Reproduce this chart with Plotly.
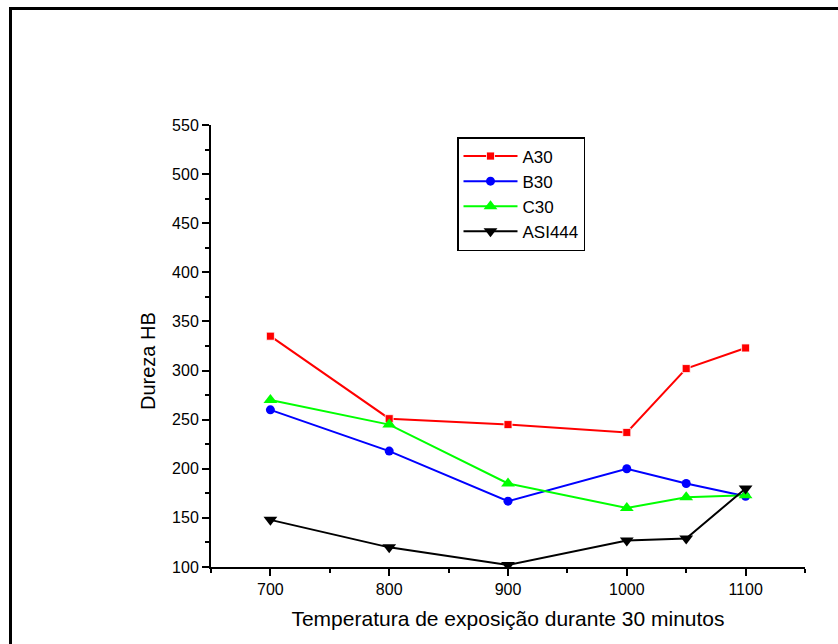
import plotly.graph_objects as go

temps = [700, 800, 900, 1000, 1050, 1100]
a30 = [335, 251, 245, 237, 302, 323]
b30 = [260, 218, 167, 200, 185, 172]
c30 = [270, 245, 185, 160, 171, 173]
asi444 = [148, 120, 102, 127, 129, 180]

x_ticks = [700, 800, 900, 1000, 1100]
y_ticks = [100, 150, 200, 250, 300, 350, 400, 450, 500, 550]

series = [
    ("A30", a30, "#FF0000", "square", 8),
    ("B30", b30, "#0000FF", "circle", 9),
    ("C30", c30, "#00FF00", "triangle-up", 12),
    ("ASI444", asi444, "#000000", "triangle-down", 12),
]

fig = go.Figure()
for name, vals, col, sym, sz in series:
    fig.add_trace(go.Scatter(
        x=temps, y=vals, name=name, mode="lines+markers",
        line=dict(color=col, width=2),
        marker=dict(symbol=sym, size=sz, color=col,
                    line=dict(color="white", width=0.8) if sym == "square" else dict(width=0)),
    ))

font = "Liberation Sans, Arial, sans-serif"
W, H = 838, 644
L, R, T, B = 211, 33, 125, 77
pw = W - L - R
ph = H - T - B

def px_x(p):
    return (p - L) / pw

def px_y(p):
    return 1 - (p - T) / ph

fig.update_layout(
    width=W, height=H,
    margin=dict(l=L, r=R, t=T, b=B),
    paper_bgcolor="white", plot_bgcolor="white",
    font=dict(family=font, color="black", size=16),
    showlegend=True,
    legend=dict(
        x=px_x(457), y=px_y(137), xanchor="left", yanchor="top",
        bordercolor="black", borderwidth=1.5, bgcolor="white",
        font=dict(size=17, family=font), itemwidth=54,
        tracegroupgap=0,
    ),
    xaxis=dict(
        range=[650, 1150], tickvals=x_ticks, ticktext=[str(v) for v in x_ticks],
        showgrid=False, zeroline=False, showline=True, linecolor="black", linewidth=2,
        ticks="outside", ticklen=7, tickwidth=1.5, tickcolor="black",
        minor=dict(dtick=50, tick0=650, ticks="outside", ticklen=4, tickwidth=1.5, tickcolor="black"),
        tickfont=dict(size=16, family=font),
        title=dict(text="Temperatura de exposição durante 30 minutos", font=dict(size=21, family=font), standoff=14),
    ),
    yaxis=dict(
        range=[100, 550], tickvals=y_ticks, ticktext=[str(v) for v in y_ticks],
        showgrid=False, zeroline=False, showline=True, linecolor="black", linewidth=2,
        ticks="outside", ticklen=7, tickwidth=1.5, tickcolor="black",
        minor=dict(dtick=25, tick0=100, ticks="outside", ticklen=4, tickwidth=1.5, tickcolor="black"),
        tickfont=dict(size=16, family=font),
    ),
    annotations=[
        dict(text="Dureza HB", xref="paper", yref="paper", x=px_x(148), y=px_y(361),
             xanchor="center", yanchor="middle", textangle=-90, showarrow=False,
             font=dict(size=20, family=font, color="black")),
    ],
    shapes=[
        dict(type="line", xref="paper", yref="paper", x0=px_x(10.5), x1=px_x(840), y0=px_y(8.5), y1=px_y(8.5),
             line=dict(color="black", width=3)),
        dict(type="line", xref="paper", yref="paper", x0=px_x(10.5), x1=px_x(10.5), y0=px_y(7), y1=px_y(650),
             line=dict(color="black", width=3)),
    ],
)

fig.write_html("out.html")
